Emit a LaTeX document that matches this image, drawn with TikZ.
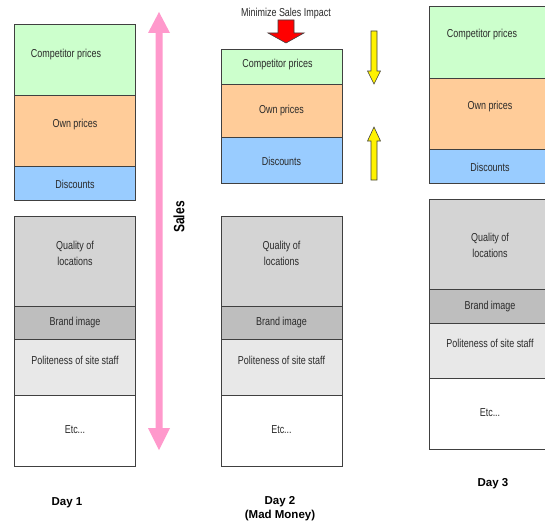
\documentclass[tikz,border=0pt]{standalone}
\usepackage{fontspec}
\setmainfont{Liberation Sans}
\newfontfamily\condfont[FakeStretch=0.78]{Liberation Sans}
\newfontfamily\salesfont[FakeStretch=0.8]{Liberation Sans}
\definecolor{cgreen}{HTML}{CCFFCC}
\definecolor{corange}{HTML}{FFCC99}
\definecolor{cblue}{HTML}{99CCFF}
\definecolor{cqual}{HTML}{D4D4D4}
\definecolor{cbrand}{HTML}{BEBEBE}
\definecolor{cpolite}{HTML}{E8E8E8}
\definecolor{cpink}{HTML}{FF99CC}
\definecolor{cline}{HTML}{404040}
\definecolor{ctext}{HTML}{2A2A2A}
\tikzset{
  box/.style={draw=cline, line width=1.2pt, anchor=north west, minimum width=121pt, inner sep=0pt},
  lbl/.style={font=\condfont\fontsize{11.5}{16}\selectfont, text=ctext, align=center, inner sep=0pt},
  daylbl/.style={font=\bfseries\fontsize{11.5}{14.5}\selectfont, text=black, align=center, inner sep=0pt},
}
\newcommand{\stackbox}[5]{% name, x, y, height, colour
  \node[box, fill=#5, minimum height=#4pt] (#1) at (#2,#3) {};}
\begin{document}
\begin{tikzpicture}[x=1pt,y=-1pt]
\useasboundingbox (0,0) rectangle (545,527);
\clip (0,0) rectangle (545,527);
\fill[white] (0,0) rectangle (545,527);

% ---- Day 1 ----
\stackbox{aComp}{14}{24}{71}{cgreen}
\stackbox{aOwn}{14}{95}{71}{corange}
\stackbox{aDisc}{14}{166}{34}{cblue}
\stackbox{aQual}{14}{216}{90}{cqual}
\stackbox{aBrand}{14}{306}{33}{cbrand}
\stackbox{aPol}{14}{339}{56}{cpolite}
\stackbox{aEtc}{14}{395}{71}{white}
\node[lbl] (taComp) at (66,55) {Competitor prices};
\node[lbl] (taOwn) at (75,125) {Own prices};
\node[lbl] (taDisc) at (75,184) {Discounts};
\node[lbl] (taQual) at (75,253) {Quality of\\locations};
\node[lbl] (taBrand) at (75,323) {Brand image};
\node[lbl] (taPol) at (75,360) {Politeness of site staff};
\node[lbl] (taEtc) at (75,430) {Etc...};
\node[daylbl] (day1) at (67,503) {Day 1};

% ---- Sales arrow ----
\fill[cpink] (159,12) -- (170,33) -- (162.5,33) -- (162.5,428) -- (170,428)
  -- (159,450) -- (148,428) -- (155.5,428) -- (155.5,33) -- (148,33) -- cycle;
\node[font=\salesfont\bfseries\fontsize{15}{16}\selectfont, rotate=90, inner sep=0pt] (sales) at (179,217) {Sales};

% ---- Day 2 ----
\stackbox{bComp}{221}{49}{35}{cgreen}
\stackbox{bOwn}{221}{84}{53}{corange}
\stackbox{bDisc}{221}{137}{46}{cblue}
\stackbox{bQual}{221}{216}{90}{cqual}
\stackbox{bBrand}{221}{306}{33}{cbrand}
\stackbox{bPol}{221}{339}{56}{cpolite}
\stackbox{bEtc}{221}{395}{71}{white}
\node[lbl] (tbComp) at (277.5,65) {Competitor prices};
\node[lbl] (tbOwn) at (281.5,111) {Own prices};
\node[lbl] (tbDisc) at (281.5,161) {Discounts};
\node[lbl] (tbQual) at (281.5,253) {Quality of\\locations};
\node[lbl] (tbBrand) at (281.5,323) {Brand image};
\node[lbl] (tbPol) at (281.5,360) {Politeness of site staff};
\node[lbl] (tbEtc) at (281.5,430) {Etc...};
\node[daylbl] (day2) at (280,508.5) {Day 2\\(Mad Money)};

% Minimize Sales Impact
\node[lbl] (mini) at (286,14) {Minimize Sales Impact};
\filldraw[fill=red, draw=cline, line width=0.6pt] (278,20) -- (294,20) -- (294,33) -- (304,33)
  -- (286,43) -- (268,33) -- (278,33) -- cycle;

% yellow arrows
\filldraw[fill=yellow, draw=cline, line width=0.6pt] (371,31) -- (377,31) -- (377,71) -- (380.5,71)
  -- (374,84) -- (367.5,71) -- (371,71) -- cycle;
\filldraw[fill=yellow, draw=cline, line width=0.6pt] (371,180) -- (377,180) -- (377,141) -- (380.5,141)
  -- (374,127) -- (367.5,141) -- (371,141) -- cycle;

% ---- Day 3 ----
\stackbox{cComp}{429}{6}{72}{cgreen}
\stackbox{cOwn}{429}{78}{71}{corange}
\stackbox{cDisc}{429}{149}{34}{cblue}
\stackbox{cQual}{429}{199}{90}{cqual}
\stackbox{cBrand}{429}{289}{34}{cbrand}
\stackbox{cPol}{429}{323}{55}{cpolite}
\stackbox{cEtc}{429}{378}{71}{white}
\node[lbl] (tcComp) at (482,35) {Competitor prices};
\node[lbl] (tcOwn) at (490,107) {Own prices};
\node[lbl] (tcDisc) at (490,167) {Discounts};
\node[lbl] (tcQual) at (490,245) {Quality of\\locations};
\node[lbl] (tcBrand) at (490,307) {Brand image};
\node[lbl] (tcPol) at (490,343) {Politeness of site staff};
\node[lbl] (tcEtc) at (490,413) {Etc...};
\node[daylbl] (day3) at (493,484) {Day 3};
\end{tikzpicture}
\end{document}
